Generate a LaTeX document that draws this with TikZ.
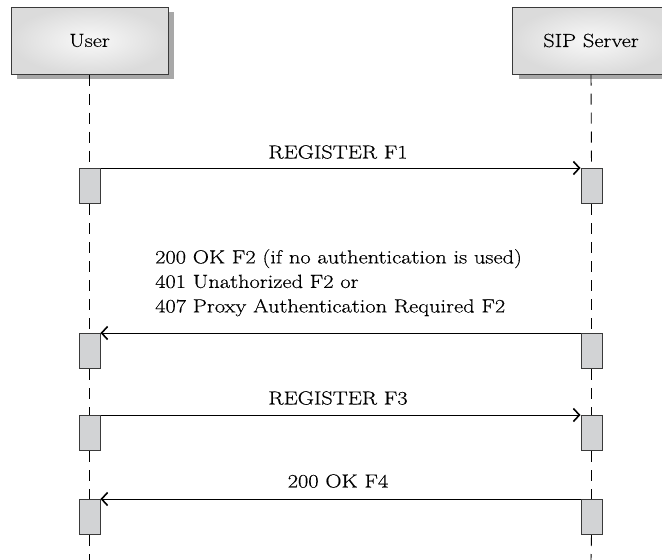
\documentclass[tikz,border=0pt]{standalone}
\usepackage{fontspec}
\setmainfont{Latin Modern Roman}[FakeStretch=1.18,FakeBold=0.4]
\usetikzlibrary{arrows.meta,shadows}
\definecolor{shadowgray}{HTML}{A8A8A8}
\definecolor{actgray}{HTML}{D2D3D5}
\definecolor{edgegray}{HTML}{3A3A3A}
\tikzset{
  hdr/.style={draw=edgegray, line width=1pt, inner color=gray!5, outer color=gray!28,
    minimum width=157pt, minimum height=67pt,
    drop shadow={shadow xshift=6pt, shadow yshift=-5pt, fill=shadowgray, opacity=1},
    font=\fontsize{19}{22}\selectfont},
  act/.style={draw=edgegray, line width=1pt, fill=actgray, minimum width=21pt, minimum height=35pt, anchor=north, inner sep=0pt},
  life/.style={draw=black, line width=0.9pt, dash pattern=on 11pt off 8pt},
  msg/.style={draw=black, line width=0.9pt, -{Straight Barb[length=6pt,width=13pt,line width=1.6pt]}},
  lbl/.style={font=\fontsize{19}{24.5}\selectfont, inner sep=0pt}
}
\begin{document}
\begin{tikzpicture}[x=1pt,y=-1pt]
\useasboundingbox (0,0) rectangle (662,560);
\clip (0,0) rectangle (662,560);
\node[hdr] (user) at (89.5,40.5) {User};
\node[hdr] (srv) at (591,40.5) {SIP Server};
\coordinate (ubot) at (89.5,560);
\coordinate (sbot) at (591,560);
% activation boxes
\node[act] (u1) at (89.5,168) {};
\node[act] (s1) at (591.5,168) {};
\node[act] (u2) at (89.5,333) {};
\node[act] (s2) at (591.5,333) {};
\node[act] (u3) at (89.5,415) {};
\node[act] (s3) at (591.5,415) {};
\node[act] (u4) at (89.5,499) {};
\node[act] (s4) at (591.5,499) {};
% lifelines
\draw[life] (user.south) -- (u1.north);
\draw[life] (u1.south) -- (u2.north);
\draw[life] (u2.south) -- (u3.north);
\draw[life] (u3.south) -- (u4.north);
\draw[life] (u4.south) -- (ubot);
\draw[life] (srv.south) -- (s1.north);
\draw[life] (s1.south) -- (s2.north);
\draw[life] (s2.south) -- (s3.north);
\draw[life] (s3.south) -- (s4.north);
\draw[life] (s4.south) -- (sbot);
% messages
\draw[msg] (u1.north east) -- (s1.north west);
\draw[msg] (s2.north west) -- (u2.north east);
\draw[msg] (u3.north east) -- (s3.north west);
\draw[msg] (s4.north west) -- (u4.north east);
% labels
\node[lbl] (l1) at (338,152) {REGISTER F1};
\node[lbl, anchor=north west, align=left] (l2) at (155,249) {200 OK F2 (if no authentication is used)\\401 Unathorized F2 or\\407 Proxy Authentication Required F2};
\node[lbl] (l3) at (338,398) {REGISTER F3};
\node[lbl] (l4) at (338,481) {200 OK F4};
\end{tikzpicture}
\end{document}
